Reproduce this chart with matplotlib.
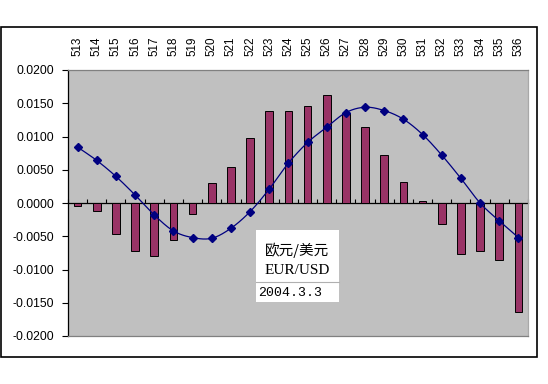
import numpy as np
import matplotlib
matplotlib.use('Agg')
import matplotlib.pyplot as plt
from matplotlib.patches import Rectangle
from matplotlib.lines import Line2D
from matplotlib.ticker import FuncFormatter, NullFormatter

categories = [str(c) for c in range(513, 537)]
bar_values = [-0.0005, -0.0012, -0.0047, -0.0072, -0.0079, -0.0055, -0.0016,
              0.0030, 0.0054, 0.0098, 0.0138, 0.0138, 0.0146, 0.0162, 0.0136,
              0.0114, 0.0072, 0.0032, 0.0003, -0.0032, -0.0076, -0.0072,
              -0.0085, -0.0164]
line_values = [0.0084, 0.0064, 0.0040, 0.0012, -0.0018, -0.0042, -0.0052,
               -0.0053, -0.0038, -0.0013, 0.0021, 0.0060, 0.0091, 0.0114,
               0.0136, 0.0144, 0.0139, 0.0126, 0.0103, 0.0072, 0.0037,
               0.0000, -0.0027, -0.0052]
y_ticks = [-0.02, -0.015, -0.01, -0.005, 0.0, 0.005, 0.01, 0.015, 0.02]
box_lines = ["欧元/美元", "EUR/USD", "2004.3.3"]


def catmull_rom(xs, ys, n=24):
    xs = np.asarray(xs, float)
    ys = np.asarray(ys, float)
    px = np.concatenate([[2 * xs[0] - xs[1]], xs, [2 * xs[-1] - xs[-2]]])
    py = np.concatenate([[2 * ys[0] - ys[1]], ys, [2 * ys[-1] - ys[-2]]])
    outx, outy = [], []
    t = np.linspace(0, 1, n, endpoint=False)
    for i in range(1, len(px) - 2):
        for p, out in ((px, outx), (py, outy)):
            p0, p1, p2, p3 = p[i - 1], p[i], p[i + 1], p[i + 2]
            out.extend(0.5 * ((2 * p1) + (-p0 + p2) * t
                              + (2 * p0 - 5 * p1 + 4 * p2 - p3) * t ** 2
                              + (-p0 + 3 * p1 - 3 * p2 + p3) * t ** 3))
    outx.append(xs[-1])
    outy.append(ys[-1])
    return np.array(outx), np.array(outy)


W, H = 548, 384
fig = plt.figure(figsize=(W / 100, H / 100), dpi=100)
fig.patch.set_facecolor('white')

# outer chart border
fig.patches.append(Rectangle((1 / W, 1 - 357 / H), 536 / W, 330 / H,
                             transform=fig.transFigure, fill=False,
                             edgecolor='black', linewidth=1.2))

ax = fig.add_axes([68 / W, 1 - 336 / H, 460 / W, 266 / H])
ax.set_facecolor('#C0C0C0')
x = np.arange(len(categories))

ax.bar(x, bar_values, width=0.4, color='#993366', edgecolor='black',
       linewidth=0.7, zorder=2)
sx, sy = catmull_rom(x, line_values)
ax.plot(sx, sy, color='#000080', linewidth=0.9, zorder=3)
ax.plot(x, line_values, linestyle='none', marker='D', markersize=4.3,
        color='#000080', zorder=4)

ax.set_xlim(-0.5, len(categories) - 0.5)
ax.set_ylim(-0.02, 0.02)
ax.tick_params(axis='x', length=0, labelbottom=False)
ax.set_yticks(y_ticks)
ax.yaxis.set_major_formatter(FuncFormatter(lambda v, p: f"{v:.4f}"))
ax.tick_params(axis='y', direction='out', length=4, width=0.8, pad=6,
               labelsize=8.8, color='black')
for lab in ax.get_yticklabels():
    lab.set_family('Liberation Sans')

for s in ('top', 'bottom'):
    ax.spines[s].set_color('#808080')
ax.spines['right'].set_color('#A8A8A8')
ax.spines['left'].set_color('black')
for s in ax.spines.values():
    s.set_linewidth(0.9)

# zero category axis with boundary ticks
zero_ax = ax.secondary_xaxis(0.5)
zero_ax.set_xticks(np.arange(len(categories) + 1) - 0.5)
zero_ax.xaxis.set_major_formatter(NullFormatter())
zero_ax.tick_params(direction='out', length=3, width=0.8, color='black')
for s in zero_ax.spines.values():
    s.set_color('black')
    s.set_linewidth(0.9)

# category labels at top
top_ax = ax.secondary_xaxis('top')
top_ax.set_xticks(x)
top_ax.set_xticklabels(categories, rotation=90, fontsize=8.4,
                       family='Liberation Sans')
top_ax.tick_params(length=0, pad=10)
for s in top_ax.spines.values():
    s.set_visible(False)

# text box
ax.add_patch(Rectangle((0.408, 0.128), 0.181, 0.270, transform=ax.transAxes,
                       facecolor='white', edgecolor='none', zorder=6))
ax.add_line(Line2D([0.408, 0.589], [0.202, 0.202], transform=ax.transAxes,
                   color='#B0B0B0', linewidth=0.8, zorder=7))
ax.text(0.498, 0.321, box_lines[0], transform=ax.transAxes, ha='center',
        va='center', fontsize=10.5, family=['Noto Sans CJK SC', 'DejaVu Sans'],
        zorder=8)
ax.text(0.498, 0.245, box_lines[1], transform=ax.transAxes, ha='center',
        va='center', fontsize=11, family='Liberation Serif', zorder=8)
ax.text(0.413, 0.163, box_lines[2], transform=ax.transAxes, ha='left',
        va='center', fontsize=9.5, family='Liberation Mono', zorder=8)

fig.savefig('out.png', dpi=100)
